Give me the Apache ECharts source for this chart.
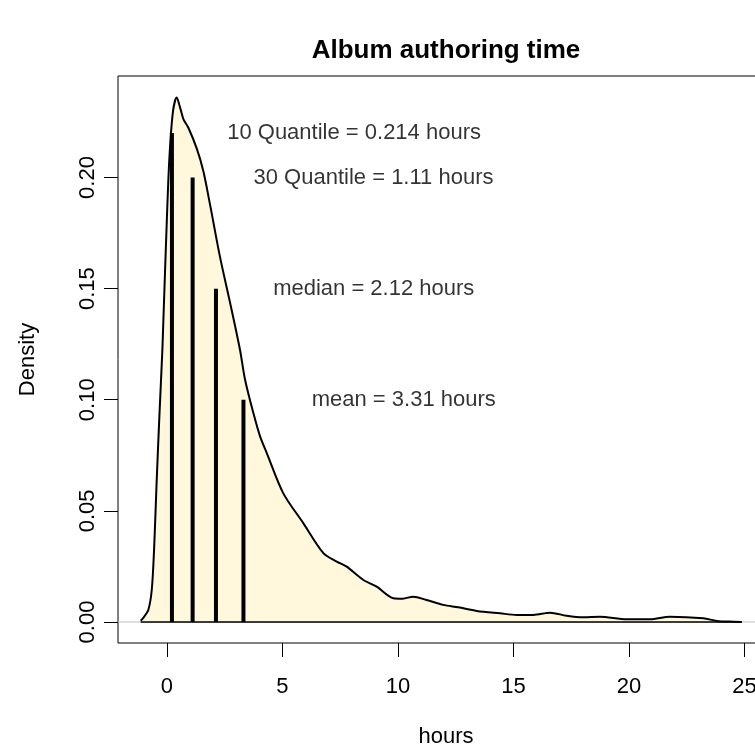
<!DOCTYPE html>
<html>
<head>
<meta charset="utf-8">
<script src="https://cdn.jsdelivr.net/npm/echarts@6/dist/echarts.min.js"></script>
<style>
html,body{margin:0;padding:0;background:#fff;}
#chart{width:755px;height:749px;}
</style>
</head>
<body>
<div id="chart"></div>
<script>
// Density curve (hours vs density)
const curveX = [-1.14, -1.03, -0.81, -0.66, -0.56, -0.45, -0.33, -0.20, -0.16, -0.01, 0.10, 0.25, 0.42, 0.58, 0.72, 0.92, 1.29, 1.57, 1.86, 2.29, 2.73, 3.16, 3.38, 3.74, 4.03, 4.32, 5.03, 5.90, 6.77, 7.35, 7.78, 8.50, 9.08, 9.80, 10.20, 10.66, 11.24, 11.96, 12.61, 13.41, 14.42, 15.14, 15.86, 16.58, 17.30, 18.02, 18.74, 19.90, 20.91, 21.77, 23.22, 23.80, 24.52, 24.88];
const curveY = [0.0006, 0.0018, 0.0054, 0.0144, 0.0324, 0.0626, 0.0925, 0.1225, 0.1347, 0.180, 0.208, 0.229, 0.236, 0.231, 0.226, 0.2225, 0.213, 0.203, 0.188, 0.1645, 0.1437, 0.1225, 0.109, 0.094, 0.0835, 0.076, 0.058, 0.0445, 0.031, 0.0272, 0.0249, 0.0189, 0.0159, 0.0107, 0.0105, 0.0114, 0.0099, 0.0077, 0.0066, 0.0050, 0.0039, 0.0032, 0.0032, 0.0042, 0.0028, 0.0021, 0.0024, 0.0012, 0.0012, 0.0024, 0.0017, 0.0005, 0.0001, 0.0];

// Quantile / mean marker segments
const markX = [0.214, 1.11, 2.12, 3.31];
const markTop = [0.22, 0.20, 0.15, 0.10];

// Annotation texts
const noteText = ['10 Quantile = 0.214 hours', '30 Quantile = 1.11 hours', 'median = 2.12 hours', 'mean = 3.31 hours'];
const noteX = [8.1, 8.94, 8.95, 10.25];
const noteY = [0.22, 0.20, 0.15, 0.10];

// Axis ticks
const xTicks = [0, 5, 10, 15, 20, 25];
const yTicks = [0, 0.05, 0.10, 0.15, 0.20];

const FONT = "'Liberation Sans', Arial, Helvetica, sans-serif";
const chart = echarts.init(document.getElementById('chart'));

const curveData = curveX.map((x, i) => [x, curveY[i]]);
const xMin = -2.121, xMax = 26.279;
const yMin = -0.00945, yMax = 0.24567;

const segSeries = markX.map((x, i) => ({
  type: 'line',
  data: [[x, 0], [x, markTop[i]]],
  showSymbol: false,
  silent: true,
  lineStyle: { color: '#000', width: 4, cap: 'butt' },
  z: 5
}));

chart.setOption({
  animation: false,
  backgroundColor: '#fff',
  graphic: [{
    type: 'text',
    x: 446, y: 51,
    style: {
      text: 'Album authoring time',
      font: 'bold 26px ' + FONT,
      fill: '#000',
      textAlign: 'center',
      textVerticalAlign: 'middle'
    }
  }],
  grid: {
    left: 118, top: 76, width: 656, height: 567,
    outerBoundsMode: 'none',
    containLabel: false,
    show: true, borderColor: '#000', borderWidth: 1,
    backgroundColor: 'transparent'
  },
  xAxis: {
    type: 'value', min: xMin, max: xMax,
    splitLine: { show: false },
    axisLine: { show: false, onZero: false },
    axisTick: { show: true, customValues: xTicks, length: 14, inside: false, lineStyle: { color: '#000', width: 1 } },
    axisLabel: { show: true, customValues: xTicks, margin: 33, color: '#000', fontSize: 22, fontFamily: FONT,
      hideOverlap: false, formatter: v => String(v) },
    name: 'hours', nameLocation: 'middle', nameGap: 83,
    nameTextStyle: { color: '#000', fontSize: 22, fontFamily: FONT }
  },
  yAxis: {
    type: 'value', min: yMin, max: yMax,
    splitLine: { show: false },
    axisLine: { show: false, onZero: false },
    axisTick: { show: true, customValues: yTicks, length: 14, inside: false, lineStyle: { color: '#000', width: 1 } },
    axisLabel: { show: true, customValues: yTicks, rotate: 90, margin: 19, color: '#000', fontSize: 22, fontFamily: FONT,
      formatter: v => v.toFixed(2) },
    name: 'Density', nameLocation: 'middle', nameGap: 79, nameRotate: 90,
    nameTextStyle: { color: '#000', fontSize: 22, fontFamily: FONT }
  },
  series: [
    {
      type: 'line',
      data: [[xMin, 0], [xMax, 0]],
      showSymbol: false, silent: true,
      lineStyle: { color: '#bebebe', width: 1 },
      z: 1
    },
    {
      type: 'line',
      data: curveData,
      smooth: 0.3,
      showSymbol: false, silent: true,
      lineStyle: { color: '#000', width: 2 },
      areaStyle: { color: '#FFF8DC', opacity: 1, origin: 0 },
      z: 2
    },
    {
      type: 'line',
      data: [[curveX[0], 0], [curveX[curveX.length - 1], 0]],
      showSymbol: false, silent: true,
      lineStyle: { color: '#000', width: 1.5 },
      z: 3
    },
    ...segSeries,
    {
      type: 'scatter',
      data: noteText.map((t, i) => ({ name: t, value: [noteX[i], noteY[i]] })),
      symbolSize: 1,
      itemStyle: { color: 'rgba(0,0,0,0)' },
      silent: true,
      label: { show: true, position: 'inside', formatter: '{b}', color: '#000', fontSize: 22, fontFamily: FONT },
      z: 6
    }
  ]
});
</script>
</body>
</html>
